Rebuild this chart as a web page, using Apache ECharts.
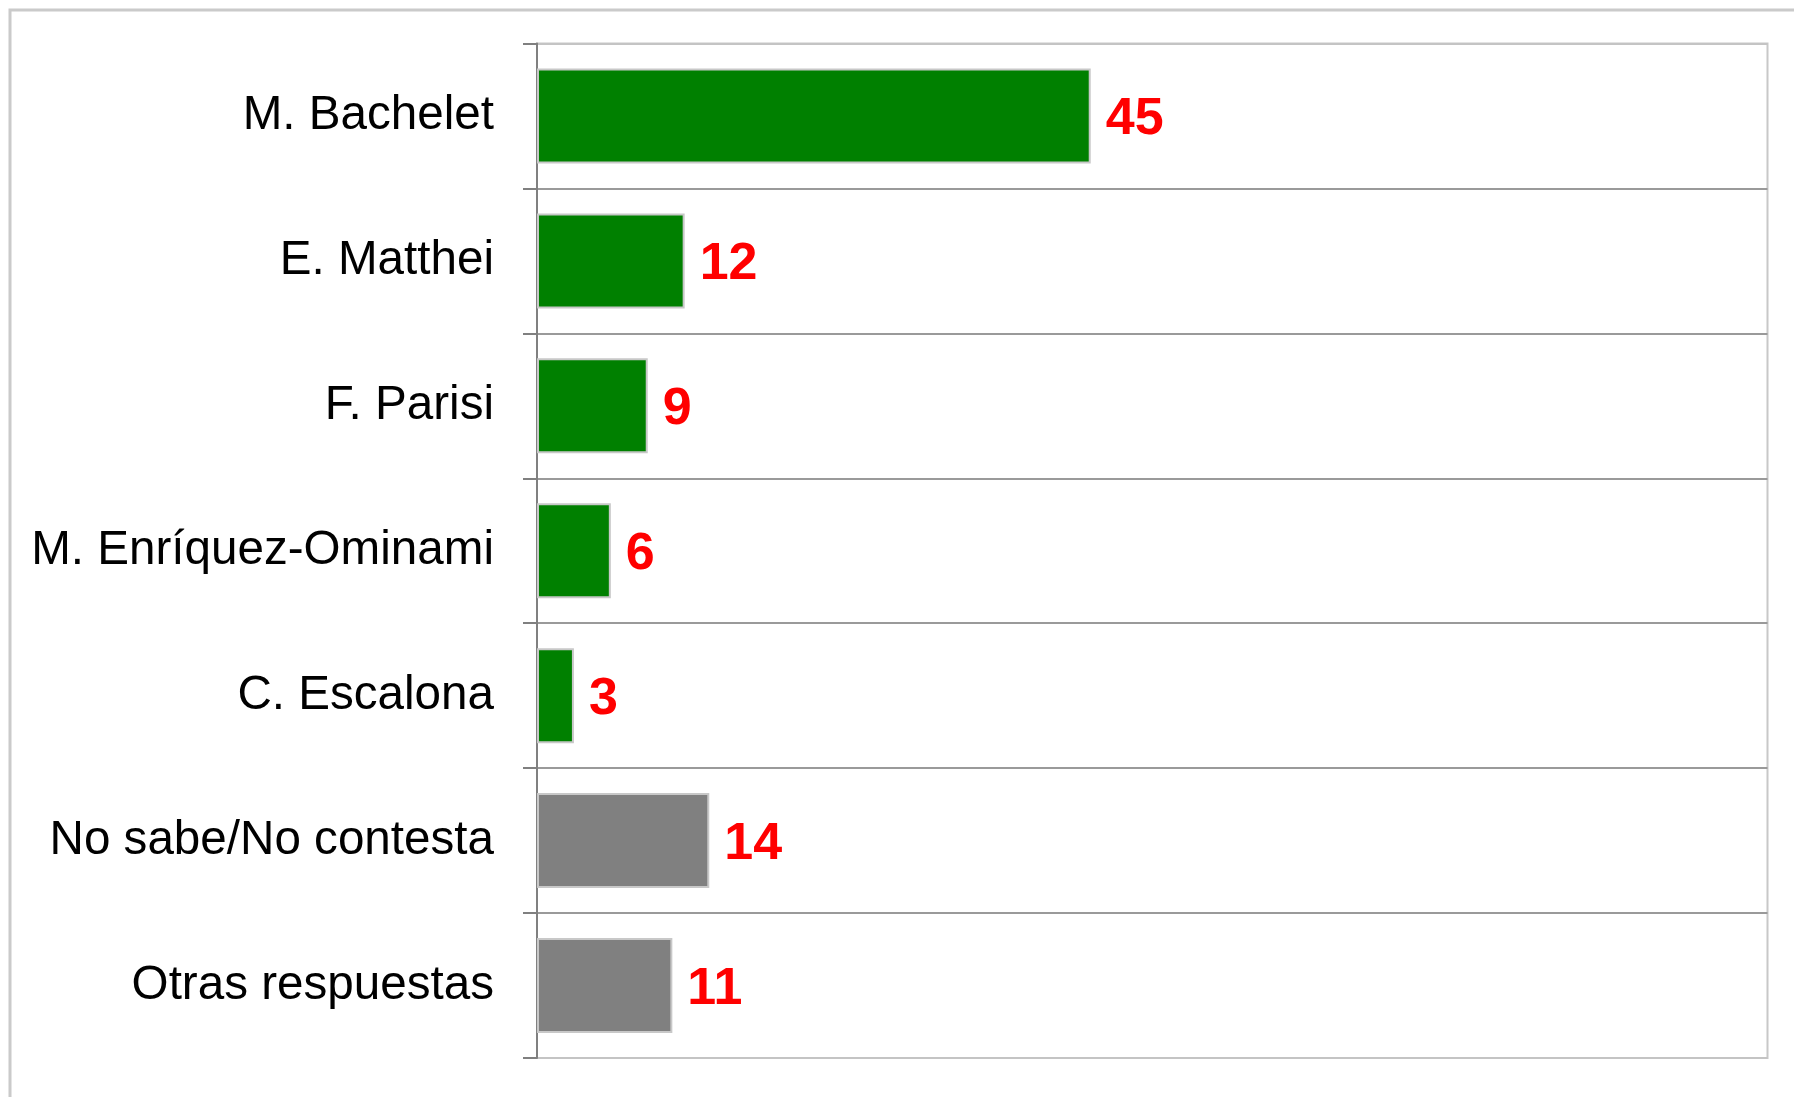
<!DOCTYPE html>
<html>
<head>
<meta charset="utf-8">
<style>
  html, body { margin: 0; padding: 0; background: #ffffff; }
  #chart { width: 1794px; height: 1097px; }
</style>
<script src="https://cdn.jsdelivr.net/npm/echarts@6/dist/echarts.min.js"></script>
</head>
<body>
<div id="chart"></div>
<script>
// Poll responses, top to bottom
const categories = [
  'M. Bachelet',
  'E. Matthei',
  'F. Parisi',
  'M. Enríquez-Ominami',
  'C. Escalona',
  'No sabe/No contesta',
  'Otras respuestas'
];
const values = [45, 12, 9, 6, 3, 14, 11];
// 'cand' = candidate, 'other' = non-candidate answer
const kinds = ['cand', 'cand', 'cand', 'cand', 'cand', 'other', 'other'];

const kindColor = { cand: '#008000', other: '#808080' };
const FONT = '"Liberation Sans", Arial, sans-serif';

const chart = echarts.init(document.getElementById('chart'), null, { renderer: 'canvas' });

// one colour per category boundary: light edges, darker inner separators
const sepColors = [];
for (let i = 0; i <= categories.length; i++) {
  sepColors.push(i === 0 || i === categories.length ? '#c4c4c4' : '#9a9a9a');
}

chart.setOption({
  animation: false,
  backgroundColor: '#ffffff',
  graphic: [{
    type: 'rect',
    z: -10,
    shape: { x: 10, y: 10, width: 1850, height: 1150 },
    style: { fill: 'none', stroke: '#cacaca', lineWidth: 3 }
  }],
  grid: {
    left: 537, top: 43.5, right: 26.5, bottom: 39,
    show: true,
    borderColor: '#c8c8c8',
    borderWidth: 2,
    backgroundColor: 'transparent'
  },
  xAxis: {
    type: 'value',
    min: 0,
    max: 100,
    show: false
  },
  yAxis: {
    type: 'category',
    data: categories,
    inverse: true,
    axisLine: { show: true, lineStyle: { color: '#808080', width: 2 } },
    axisTick: { show: true, length: 14, lineStyle: { color: '#808080', width: 2 } },
    axisLabel: {
      margin: 43,
      fontSize: 47.6,
      color: '#000000',
      fontFamily: FONT,
      padding: [8, 0, 0, 0]
    },
    splitLine: { show: true, lineStyle: { color: sepColors, width: 2 } }
  },
  series: [{
    type: 'bar',
    barWidth: 95,
    data: values.map((v, i) => ({
      value: v,
      itemStyle: { color: kindColor[kinds[i]] }
    })),
    itemStyle: { borderColor: '#c8c8c8', borderWidth: 2 },
    label: {
      show: true,
      position: 'right',
      distance: 15,
      offset: [0, 4],
      color: '#ff0000',
      fontWeight: 'bold',
      fontSize: 52,
      fontFamily: FONT
    }
  }]
});
</script>
</body>
</html>
